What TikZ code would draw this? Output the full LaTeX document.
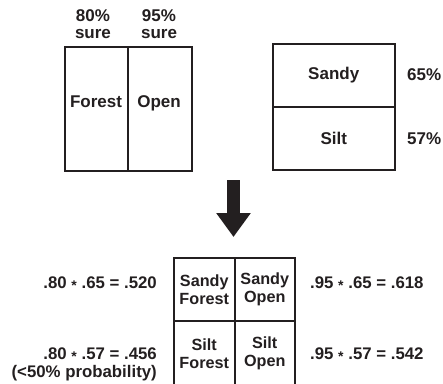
\documentclass[tikz,border=0pt]{standalone}
\usepackage{fontspec}
\setmainfont{Liberation Sans}
\usetikzlibrary{arrows.meta}
\definecolor{ink}{RGB}{35,31,32}
\newcommand{\mul}{\raisebox{-0.3ex}{\fontsize{14}{14}\selectfont *}}
\begin{document}
\begin{tikzpicture}[x=1pt,y=-1pt,
  every node/.style={text=ink,font=\bfseries\fontsize{17}{18}\selectfont},
  cell/.style={draw=ink,line width=1.5pt,rectangle,inner sep=0pt,anchor=north west,align=center},
  lbl/.style={inner sep=0pt,anchor=base},
  small/.style={font=\bfseries\fontsize{16.2}{18}\selectfont},
  eq/.style={font=\bfseries\fontsize{16.8}{18}\selectfont}]
\useasboundingbox (0,0) rectangle (443,383);
% left box
\node[cell,minimum width=63pt,minimum height=124pt] (forestcell) at (64,46) {};
\node[cell,minimum width=64pt,minimum height=124pt] (opencell) at (127,46) {};
\node[lbl] (forest) at (96,107.5) {Forest};
\node[lbl] (open) at (159,107.5) {Open};
\node[lbl] (p80) at (93,21) {80\%};
\node[lbl] (s80) at (93,38.5) {sure};
\node[lbl] (p95) at (159,21) {95\%};
\node[lbl] (s95) at (159,38.5) {sure};
% right box
\node[cell,minimum width=122pt,minimum height=63pt] (sandycell) at (272,43) {Sandy};
\node[cell,minimum width=122pt,minimum height=63pt] (siltcell) at (272,106) {Silt};
\node[lbl,anchor=base west] (p65) at (407,80) {65\%};
\node[lbl,anchor=base west] (p57) at (407,144) {57\%};
% arrow
\coordinate (atop) at (233.5,180);
\coordinate (abot) at (233.5,237);
\draw[ink,line width=13pt,-{Triangle[width=33pt,length=24pt]}] (atop) -- (abot);
% grid
\node[cell,small,minimum width=61pt,minimum height=63pt] (sf) at (173,257) {Sandy\\Forest};
\node[cell,small,minimum width=60pt,minimum height=63pt] (so) at (234,257) {Sandy\\Open};
\node[cell,small,minimum width=61pt,minimum height=65pt] (tf) at (173,320) {Silt\\Forest};
\node[cell,small,minimum width=60pt,minimum height=65pt] (to) at (234,320) {Silt\\Open};
% equations
\node[lbl,eq,anchor=base east] (e1) at (157,288) {.80 \mul\ .65 = .520};
\node[lbl,eq,anchor=base west] (e2) at (310,288) {.95 \mul\ .65 = .618};
\node[lbl,eq,anchor=base east] (e3) at (157,359) {.80 \mul\ .57 = .456};
\node[lbl,eq,anchor=base east] (e4) at (157,377) {(<50\% probability)};
\node[lbl,eq,anchor=base west] (e5) at (310,359) {.95 \mul\ .57 = .542};
\end{tikzpicture}
\end{document}
